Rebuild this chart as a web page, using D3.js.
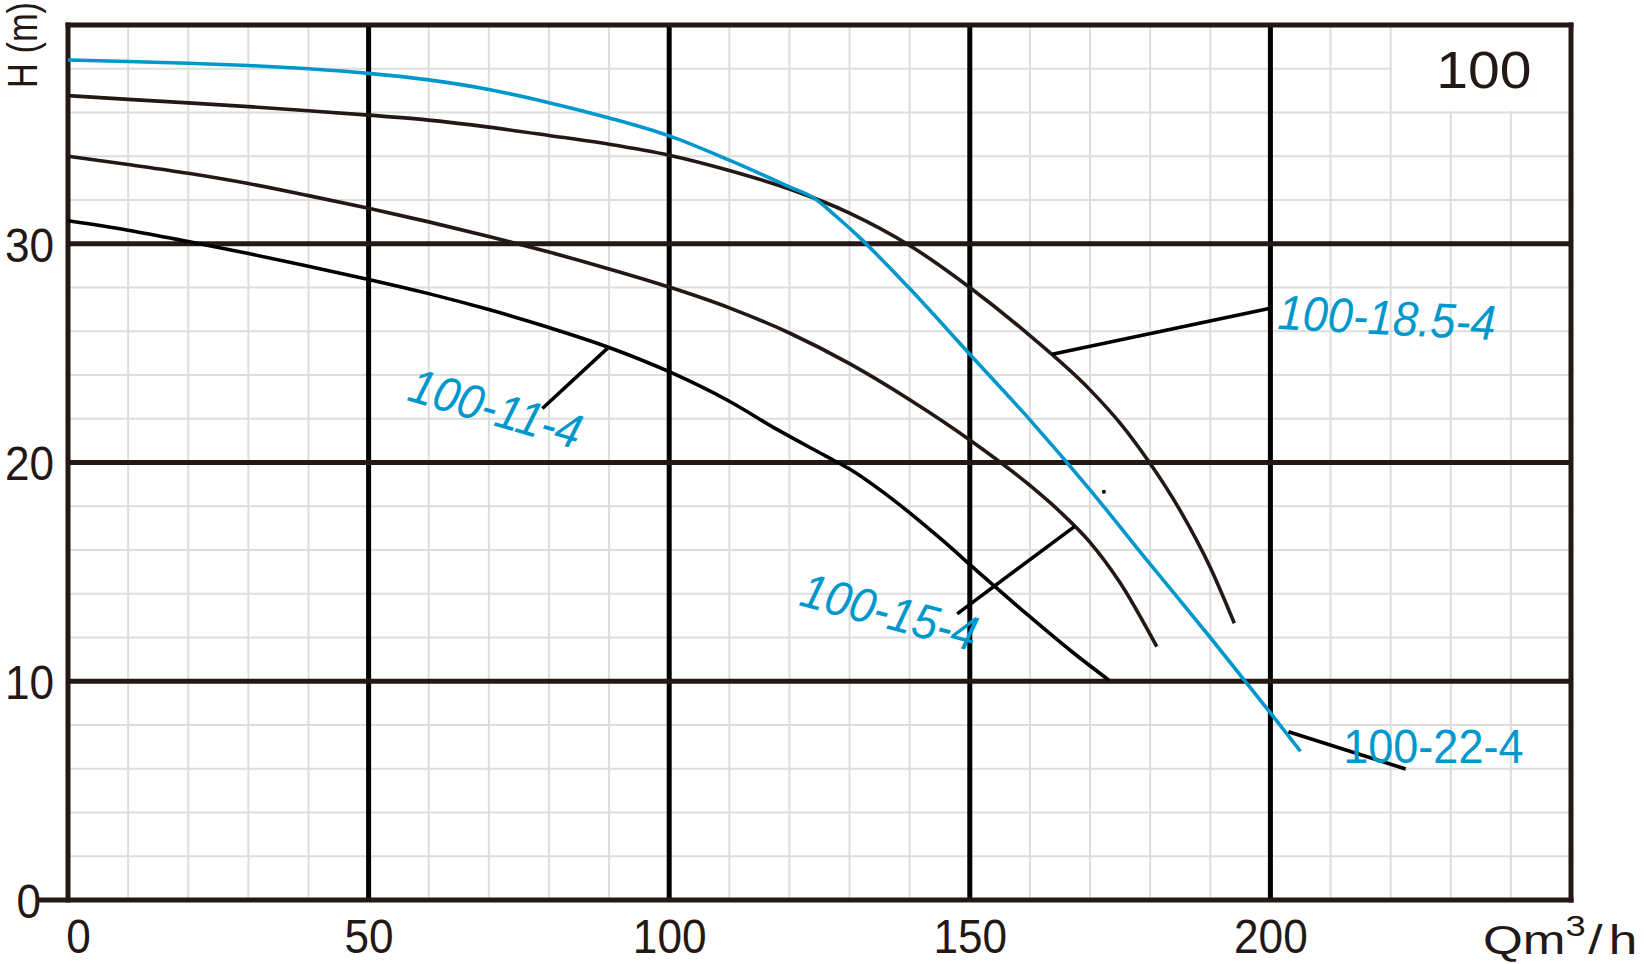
<!DOCTYPE html>
<html><head><meta charset="utf-8">
<script src="https://cdn.jsdelivr.net/npm/d3@7"></script>
<style>
html,body{margin:0;padding:0;background:#fff;}
svg{display:block;font-family:"Liberation Sans",Arial,Helvetica,sans-serif;}
</style></head><body>
<svg id="c" width="1646" height="964"></svg>
<script>
// ---- data (Q in m3/h, H in m) ----
const Q_TICKS = [0, 50, 100, 150, 200];
const H_TICKS = [0, 10, 20, 30];
const Q_DOMAIN = [0, 250];
const H_DOMAIN = [0, 40];

const q_22_4 = [0,10,20,30,40,50,60,70,80,90,100,110,120,124,128,132,136,140,150,160,170,180,190,200,205];
const h_22_4 = [38.4,38.33,38.25,38.15,38.0,37.79,37.49,37.05,36.45,35.75,34.93,33.82,32.6,32.1,31.2,30.2,29.1,27.95,24.95,21.95,18.75,15.35,12.0,8.55,6.8];

const q_18_5_4 = [0,10,20,30,40,50,60,70,80,90,100,110,120,130,140,150,160,170,175,180,185,190,194];
const h_18_5_4 = [36.77,36.6,36.44,36.27,36.08,35.88,35.65,35.33,34.95,34.55,34.05,33.35,32.5,31.4,29.92,28.0,25.8,23.32,21.8,19.95,17.8,15.2,12.65];

const q_15_4 = [0,10,20,30,40,50,60,70,80,90,100,110,120,130,140,150,160,165,170,175,181.1];
const h_15_4 = [34.0,33.62,33.22,32.75,32.2,31.62,31.0,30.33,29.62,28.85,28.02,27.07,25.92,24.52,22.87,21.03,18.95,17.75,16.35,14.5,11.58];

const q_11_4 = [0,10,20,30,40,50,60,70,80,90,100,110,118,126,130,137,145,152,160,167,173.1];
const h_11_4 = [31.05,30.62,30.1,29.55,28.97,28.37,27.72,26.99,26.17,25.26,24.15,22.8,21.5,20.3,19.7,18.35,16.55,14.85,12.95,11.35,10.06];

const SERIES_NAMES = ["100-11-4", "100-15-4", "100-18.5-4", "100-22-4"];
const TITLE = "100";
const Y_TITLE = "H (m)";

// leader lines (data coords): from point on curve to label
const leaderQ1 = [89.9, 167.4, 163.7, 203.0];
const leaderH1 = [25.26, 17.07, 24.95, 7.69];
const leaderQ2 = [78.9, 147.9, 200.0, 222.5];
const leaderH2 = [22.47, 13.08, 27.05, 5.99];
// label anchors (data coords)
const labelQ = [56.2, 121.4, 201.1, 212.1];
const labelH = [22.86, 13.49, 26.1, 6.26];
const titleQ = 227.6, titleH = 37.12;

// ---- layout ----
const svg = d3.select("#c");
const x = d3.scaleLinear().domain(Q_DOMAIN).range([68, 1571]);
const y = d3.scaleLinear().domain(H_DOMAIN).range([900, 25]);

const FRAME = "#231815", BLUE = "#0098cc", GRID = "#dcdddd";
const labelRot = [16.3, 15, 2.9, 0];
const labelItalic = [true, true, true, false];

// minor grid
const minorQ = d3.range(10, 250, 10).filter(v => v % 50 !== 0);
const minorH = d3.range(2, 40, 2).filter(v => v % 10 !== 0);
const g0 = svg.append("g");
g0.selectAll("line.mx").data(minorQ).join("line")
  .attr("x1", d => x(d)).attr("x2", d => x(d)).attr("y1", y(40)).attr("y2", y(0))
  .attr("stroke", GRID).attr("stroke-width", 2);
g0.selectAll("line.my").data(minorH).join("line")
  .attr("x1", x(0)).attr("x2", x(250)).attr("y1", d => y(d)).attr("y2", d => y(d))
  .attr("stroke", GRID).attr("stroke-width", 2);
// blank box behind title
g0.append("rect").attr("x", x(220) + 1.5).attr("y", y(40)).attr("width", x(250) - x(220) - 1.5)
  .attr("height", y(36) - y(40) - 1.5).attr("fill", "#fff");

// major grid
const majorQ = [50, 100, 150, 200];
const majorH = [10, 20, 30];
g0.selectAll("line.Mx").data(majorQ).join("line")
  .attr("x1", d => x(d)).attr("x2", d => x(d)).attr("y1", y(40)).attr("y2", y(0))
  .attr("stroke", "#000").attr("stroke-width", 5);
g0.selectAll("line.My").data(majorH).join("line")
  .attr("x1", x(0)).attr("x2", x(250)).attr("y1", d => y(d)).attr("y2", d => y(d))
  .attr("stroke", FRAME).attr("stroke-width", 5);

// frame
const fr = svg.append("g").attr("stroke", FRAME).attr("stroke-width", 5).attr("fill", "none");
fr.append("line").attr("x1", x(0)).attr("x2", x(0)).attr("y1", y(40) - 2.5).attr("y2", y(0) + 2.5);
fr.append("line").attr("x1", x(0) - 2.5).attr("x2", x(250) + 2.5).attr("y1", y(40)).attr("y2", y(40));
fr.append("line").attr("x1", x(250)).attr("x2", x(250)).attr("y1", y(40) - 2.5).attr("y2", y(0) + 2.5);
fr.append("line").attr("x1", 38).attr("x2", x(250) + 2.5).attr("y1", y(0)).attr("y2", y(0));

// axes (labels only)
const FS = 48, SX = 0.92;
const xa = svg.append("g").attr("transform", `translate(0,${y(0)})`)
  .call(d3.axisBottom(x).tickValues(Q_TICKS).tickSize(0).tickPadding(19).tickFormat(d3.format("d")));
xa.select(".domain").remove();
xa.selectAll("text").attr("font-size", FS).attr("fill", FRAME).attr("font-family", null)
  .attr("transform", `scale(${SX},1)`)
  .attr("x", d => d === 0 ? 10 / SX : 0);

const ya = svg.append("g").attr("transform", `translate(${x(0)},0)`)
  .call(d3.axisLeft(y).tickValues(H_TICKS).tickSize(0).tickPadding(14).tickFormat(d3.format("d")));
ya.select(".domain").remove();
ya.selectAll("text").attr("font-size", FS).attr("fill", FRAME).attr("font-family", null)
  .attr("transform", `scale(${SX},1)`)
  .attr("dy", "0.36em")
  .attr("x", d => d === 0 ? -27 / SX : -14 / SX);

// axis titles
svg.append("text").attr("transform", "translate(37,88) rotate(-90) scale(0.82,1)")
  .attr("font-size", 42).attr("fill", FRAME).text(Y_TITLE);
const qt = svg.append("text").attr("transform", `translate(1483,954) scale(1.25,1)`)
  .attr("font-size", 41).attr("fill", FRAME);
qt.append("tspan").text("Qm");
qt.append("tspan").attr("font-size", 29).attr("dy", -18).text("3");
qt.append("tspan").attr("dy", 18).attr("dx", 2).text("/");
qt.append("tspan").attr("dx", 5).text("h");

// title
svg.append("text").attr("transform", `translate(${x(titleQ)},${y(titleH)}) scale(1.12,1)`)
  .attr("font-size", 51).attr("fill", FRAME).text(TITLE);

// curves
const line = d3.line().x(d => x(d[0])).y(d => y(d[1])).curve(d3.curveMonotoneX);
const curves = [
  {q: q_11_4, h: h_11_4, c: "#000"},
  {q: q_15_4, h: h_15_4, c: FRAME},
  {q: q_18_5_4, h: h_18_5_4, c: FRAME},
  {q: q_22_4, h: h_22_4, c: BLUE}
];
svg.append("g").selectAll("path").data(curves).join("path")
  .attr("d", s => line(d3.zip(s.q, s.h)))
  .attr("fill", "none").attr("stroke", s => s.c).attr("stroke-width", 3.6);

// leaders
svg.append("g").selectAll("line").data(SERIES_NAMES).join("line")
  .attr("x1", (d, i) => x(leaderQ1[i])).attr("y1", (d, i) => y(leaderH1[i]))
  .attr("x2", (d, i) => x(leaderQ2[i])).attr("y2", (d, i) => y(leaderH2[i]))
  .attr("stroke", "#000").attr("stroke-width", 3.6);

// small stray dot in original
svg.append("circle").attr("cx", x(172.3)).attr("cy", y(18.66)).attr("r", 2).attr("fill", "#000");

// series labels
svg.append("g").selectAll("text").data(SERIES_NAMES).join("text")
  .attr("transform", (d, i) => `translate(${x(labelQ[i])},${y(labelH[i])}) rotate(${labelRot[i]}) scale(${SX},1)`)
  .attr("font-size", 49).attr("fill", BLUE)
  .attr("font-style", (d, i) => labelItalic[i] ? "italic" : "normal")
  .text(d => d);
</script>
</body></html>
